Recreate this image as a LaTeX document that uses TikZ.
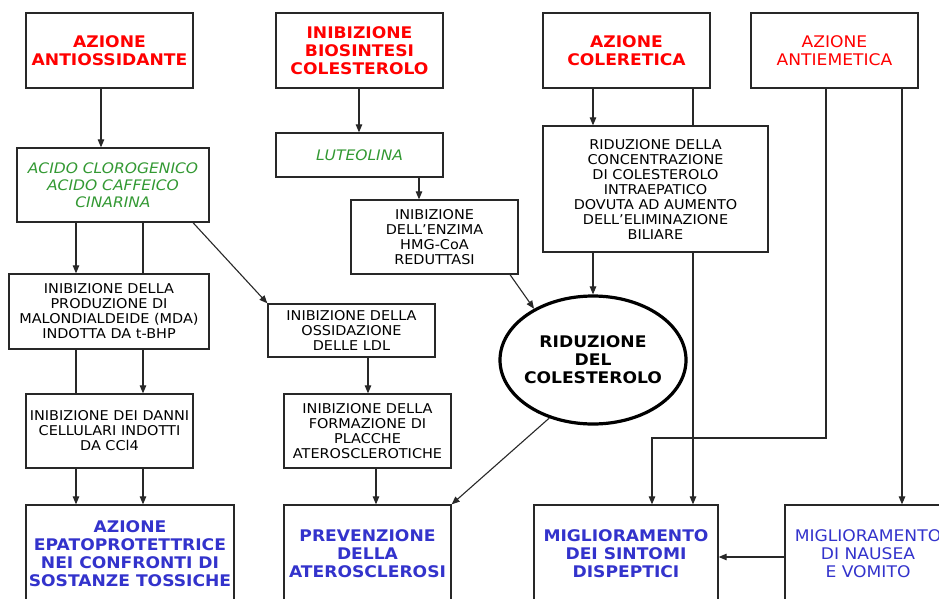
\documentclass[tikz,border=0pt]{standalone}
\usepackage{fontspec}
\setmainfont{DejaVu Sans}[FakeStretch=1.07]
\usetikzlibrary{arrows.meta,shapes.geometric}
\definecolor{tred}{RGB}{255,0,0}
\definecolor{tgreen}{RGB}{51,153,51}
\definecolor{tblue}{RGB}{51,51,204}
\definecolor{edgec}{RGB}{40,40,40}
\begin{document}
\begin{tikzpicture}[x=1pt,y=-1pt,
  box/.style={draw=edgec, line width=1.3pt, fill=white, inner sep=0pt, align=center},
  bigb/.style={font=\fontsize{16}{18}\selectfont\bfseries},
  bign/.style={font=\fontsize{16}{18}\selectfont},
  small/.style={font=\fontsize{13.5}{15}\selectfont},
  greentxt/.style={font=\fontsize{14.5}{17}\selectfont\itshape, text=tgreen},
  conn/.style={draw=edgec, line width=1.1pt},
  arr/.style={conn, -{Triangle[length=8pt,width=6.5pt]}}
]
\useasboundingbox (0,0) rectangle (939,598);
\fill[white] (0,0) rectangle (939,598);
\clip (0,0) rectangle (939,598);

% x / y guide coordinates
\coordinate (x76) at (76,0);
\coordinate (x101) at (101,0);
\coordinate (x143) at (143,0);
\coordinate (x193) at (193,0);
\coordinate (x359) at (359,0);
\coordinate (x368) at (368,0);
\coordinate (x376) at (376,0);
\coordinate (x419) at (419,0);
\coordinate (x510) at (510,0);
\coordinate (x593) at (593,0);
\coordinate (x652) at (652,0);
\coordinate (x693) at (693,0);
\coordinate (x826) at (826,0);
\coordinate (x902) at (902,0);
\coordinate (y438) at (0,438);
\coordinate (y557) at (0,557);

% row 1
\node[box, minimum width=167, minimum height=75, bigb, text=tred] (A1) at (109.5,50.5) {AZIONE\\ANTIOSSIDANTE};
\node[box, minimum width=167, minimum height=75, bigb, text=tred] (A2) at (359.5,50.5) {INIBIZIONE\\BIOSINTESI\\COLESTEROLO};
\node[box, minimum width=167, minimum height=75, bigb, text=tred] (A3) at (626.5,50.5) {AZIONE\\COLERETICA};
\node[box, minimum width=167, minimum height=75, bign, text=tred] (A4) at (834.5,50.5) {AZIONE\\ANTIEMETICA};

% row 2
\node[box, minimum width=192, minimum height=74, greentxt] (B1) at (113,185) {ACIDO CLOROGENICO\\ACIDO CAFFEICO\\CINARINA};
\node[box, minimum width=167, minimum height=44, greentxt] (B2) at (359.5,155) {LUTEOLINA};
\node[box, minimum width=167, minimum height=74, small] (B3) at (434.5,237) {INIBIZIONE\\DELL’ENZIMA\\HMG-CoA\\REDUTTASI};
\node[box, minimum width=225, minimum height=126, small] (C1) at (655.5,189) {RIDUZIONE DELLA\\CONCENTRAZIONE\\DI COLESTEROLO\\INTRAEPATICO\\DOVUTA AD AUMENTO\\DELL’ELIMINAZIONE\\BILIARE};

% row 3
\node[box, minimum width=200, minimum height=75, small] (D1) at (109,311.5) {INIBIZIONE DELLA\\PRODUZIONE DI\\MALONDIALDEIDE (MDA)\\INDOTTA DA t-BHP};
\node[box, minimum width=167, minimum height=53, small] (D2) at (351.5,330.5) {INIBIZIONE DELLA\\OSSIDAZIONE\\DELLE LDL};
\node[ellipse, draw=black, line width=3.2pt, fill=white, inner xsep=-4pt, inner ysep=0pt, minimum width=186, minimum height=128, align=center, bigb] (E) at (593,360) {RIDUZIONE\\DEL\\COLESTEROLO};

% row 4
\node[box, minimum width=167, minimum height=74, small] (E1) at (109.5,431) {INIBIZIONE DEI DANNI\\CELLULARI INDOTTI\\DA CCl4};
\node[box, minimum width=167, minimum height=74, small] (E2) at (367.5,431) {INIBIZIONE DELLA\\FORMAZIONE DI\\PLACCHE\\ATEROSCLEROTICHE};

% row 5
\node[box, minimum width=208, minimum height=98, bigb, text=tblue] (F1) at (130,554) {AZIONE\\EPATOPROTETTRICE\\NEI CONFRONTI DI\\SOSTANZE TOSSICHE};
\node[box, minimum width=167, minimum height=98, bigb, text=tblue] (F2) at (367.5,554) {PREVENZIONE\\DELLA\\ATEROSCLEROSI};
\node[box, minimum width=184, minimum height=98, bigb, text=tblue] (F3) at (626,554) {MIGLIORAMENTO\\DEI SINTOMI\\DISPEPTICI};
\node[box, minimum width=166, minimum height=98, bign, text=tblue] (F4) at (868,554) {MIGLIORAMENTO\\DI NAUSEA\\E VOMITO};

% connectors
\draw[arr] (A1.south -| x101) -- (B1.north -| x101);
\draw[arr] (B1.south -| x76) -- (D1.north -| x76);
\draw[conn] (B1.south -| x143) -- (D1.north -| x143);
\draw[arr] (B1.south -| x193) -- (D2.north west);
\draw[conn] (D1.south -| x76) -- (E1.north -| x76);
\draw[arr] (D1.south -| x143) -- (E1.north -| x143);
\draw[arr] (E1.south -| x76) -- (F1.north -| x76);
\draw[arr] (E1.south -| x143) -- (F1.north -| x143);

\draw[arr] (A2.south -| x359) -- (B2.north -| x359);
\draw[arr] (B2.south -| x419) -- (B3.north -| x419);
\draw[arr] (B3.south -| x510) -- (E.139);
\draw[arr] (D2.south -| x368) -- (E2.north -| x368);
\draw[arr] (E2.south -| x376) -- (F2.north -| x376);
\draw[arr] (E.233) -- (F2.north east);

\draw[arr] (A3.south -| x593) -- (C1.north -| x593);
\draw[conn] (A3.south -| x693) -- (C1.north -| x693);
\draw[arr] (C1.south -| x593) -- (E.north);
\draw[arr] (C1.south -| x693) -- (F3.north -| x693);

\draw[arr] (A4.south -| x826) -- (x826 |- y438) -- (x652 |- y438) -- (F3.north -| x652);
\draw[arr] (A4.south -| x902) -- (F4.north -| x902);
\draw[arr] (F4.west |- y557) -- (F3.east |- y557);
\end{tikzpicture}
\end{document}
